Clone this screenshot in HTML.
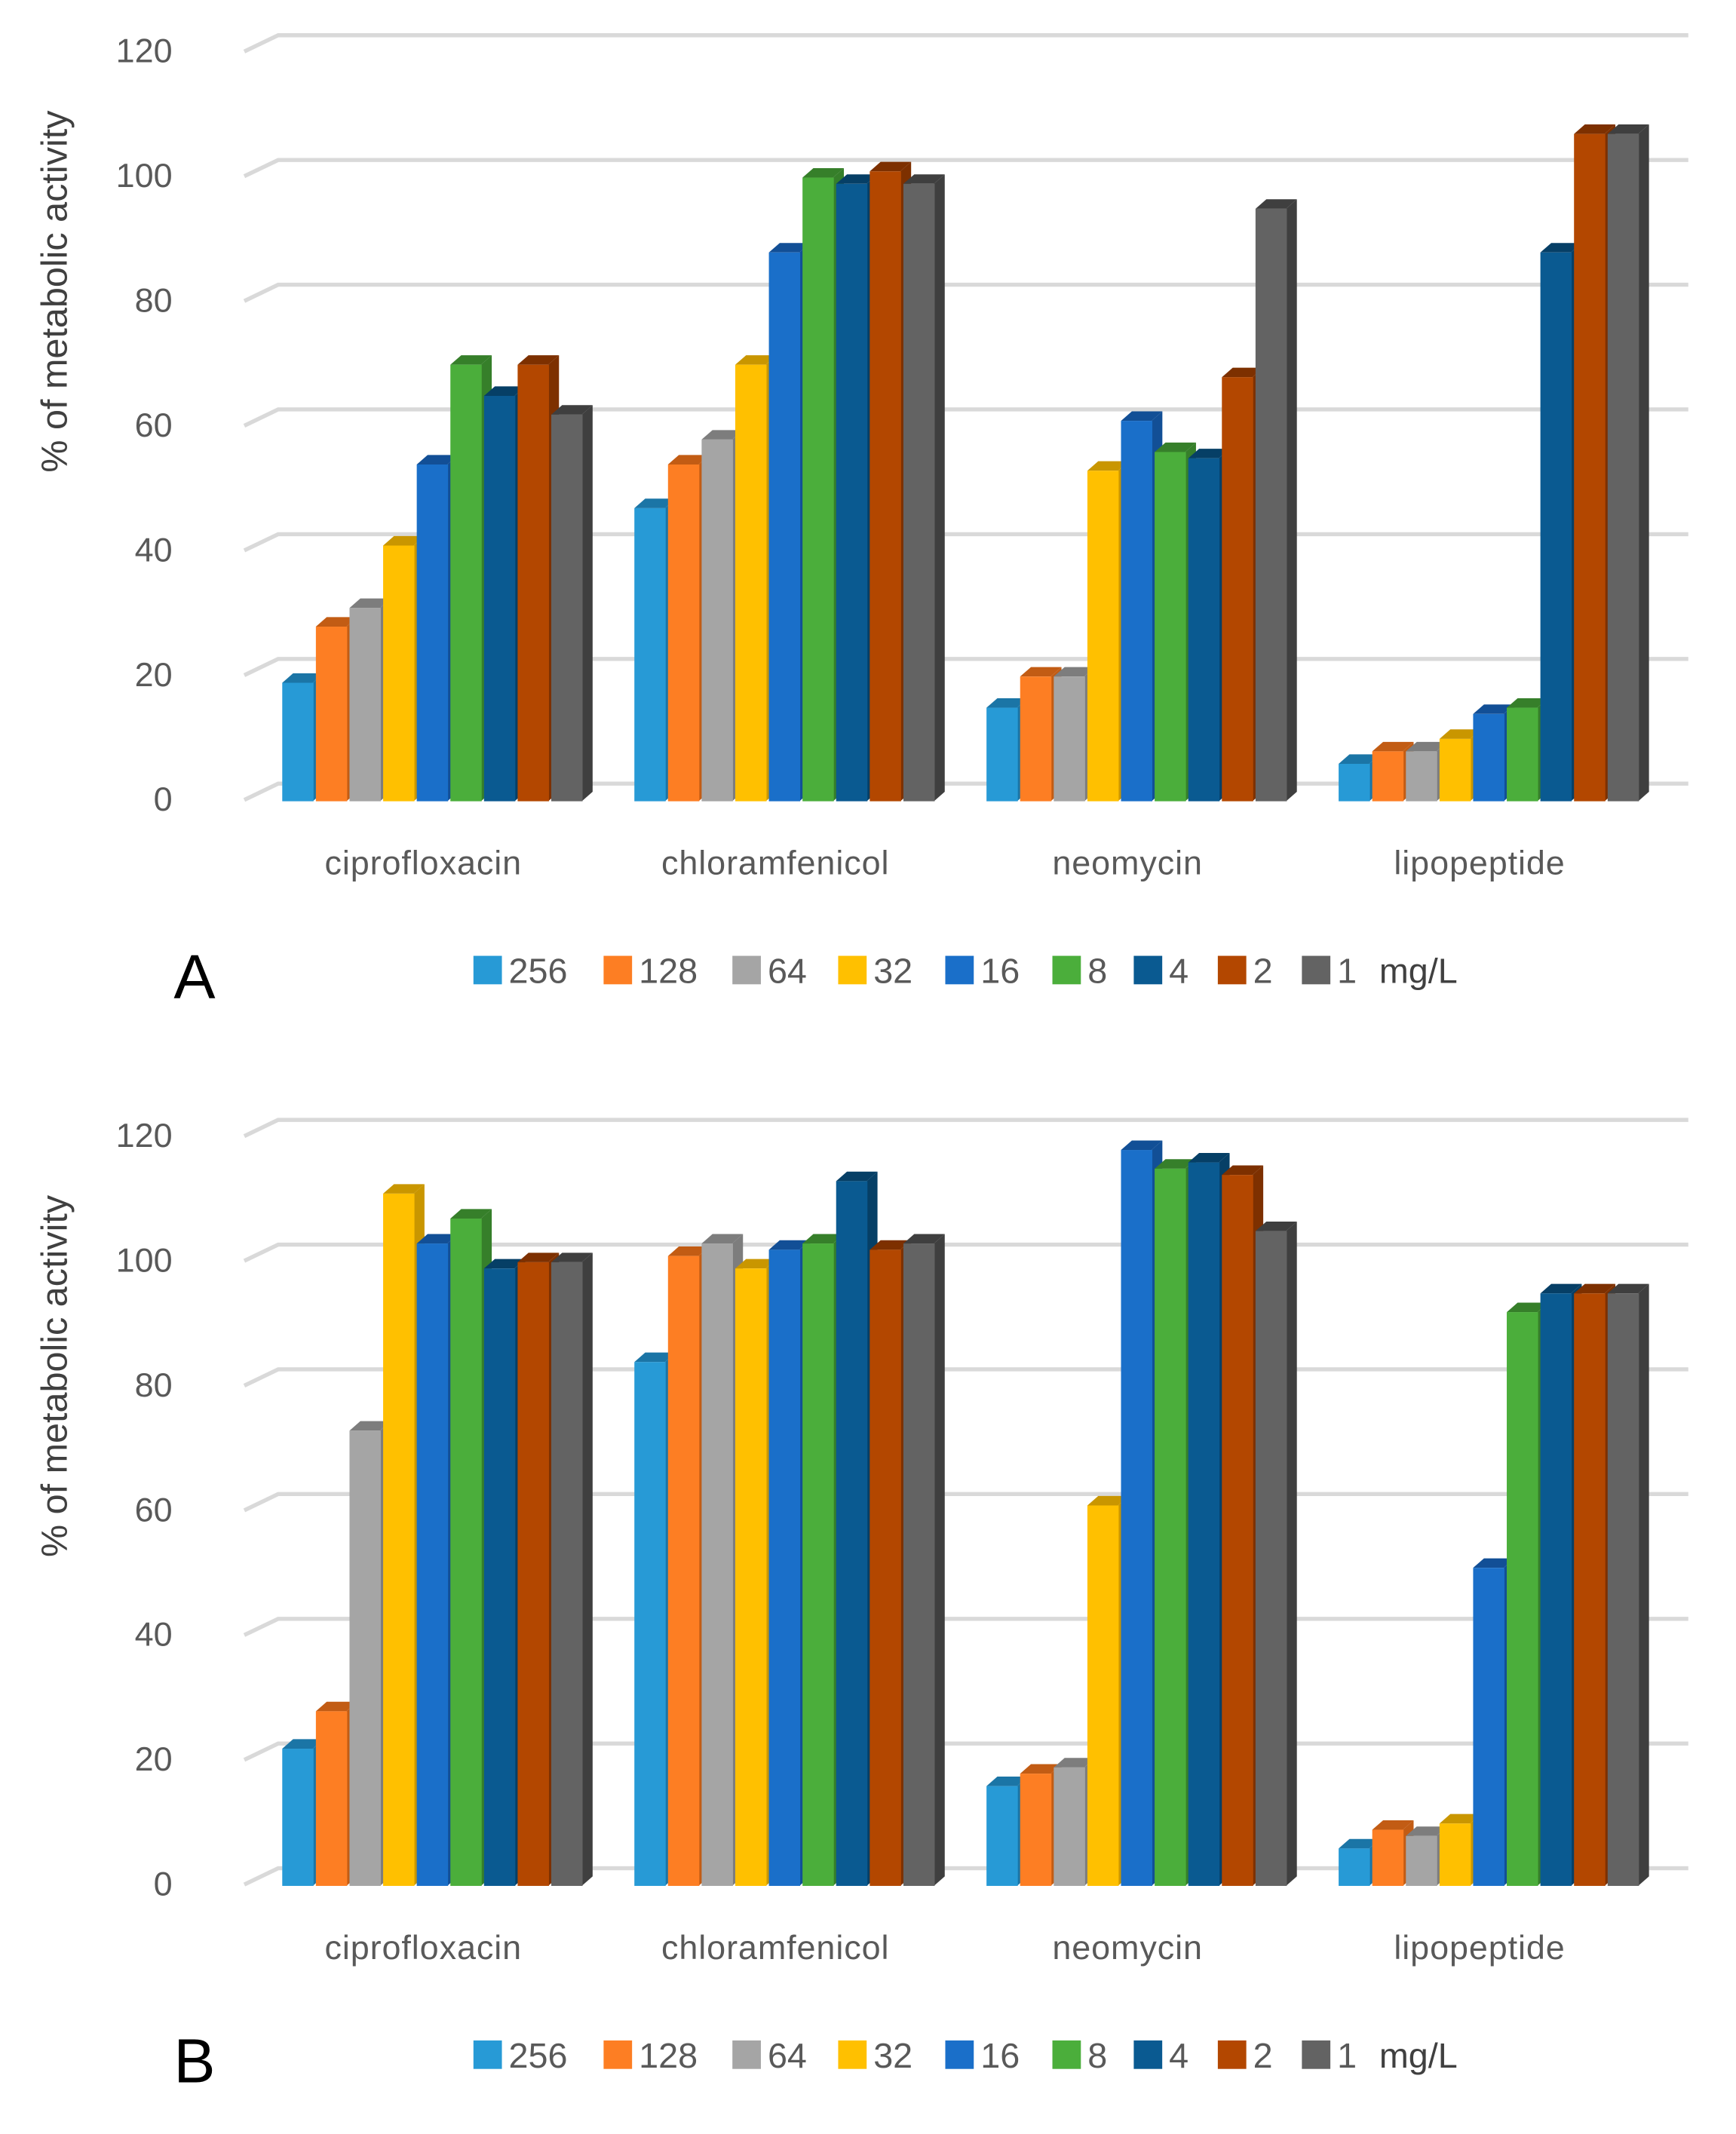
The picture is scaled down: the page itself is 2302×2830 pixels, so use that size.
<!DOCTYPE html>
<html><head><meta charset="utf-8"><style>
html,body{margin:0;padding:0;background:#fff;}
svg{display:block;font-family:"Liberation Sans",sans-serif;}
</style></head><body>
<svg id="chart" width="2302" height="2830" viewBox="0 0 1280 1574" xmlns="http://www.w3.org/2000/svg"></svg>
<script>
const categories = ["ciprofloxacin","chloramfenicol","neomycin","lipopeptide"];
const seriesNames = ["256","128","64","32","16","8","4","2","1"];
const ticks = [0,20,40,60,80,100,120];
const panelLabels = ["A","B"];
const valuesA = [
 [19,28,31,41,54,70,65,70,62],
 [47,54,58,70,88,100,99,101,99],
 [15,20,20,53,61,56,55,68,95],
 [6,8,8,10,14,15,88,107,107]
];
const valuesB = [
 [22,28,73,111,103,107,99,100,100],
 [84,101,103,99,102,103,113,102,103],
 [16,18,19,61,118,115,116,114,105],
 [6,9,8,10,51,92,95,95,95]
];
const colors = ["#279ad6","#fd7e23","#a5a5a5","#ffc000","#1a6fc9","#4bae3b","#0a5a91","#b34700","#636363"];
const dark = ["#1b75a6","#c25c14","#7d7d7d","#c99600","#124f96","#367f2a","#063f66","#7d3000","#3f3f3f"];

const svg = document.getElementById('chart');
const NS = "http://www.w3.org/2000/svg";
function mk(tag, attrs, parent){const e=document.createElementNS(NS,tag);for(const k in attrs)e.setAttribute(k,attrs[k]);(parent||svg).appendChild(e);return e;}

const PX = 4.6;
function drawPanel(vals, off, label){
  const g = mk('g',{});
  
  
  const yBack = v => off + 578 - v*PX;
  const yFront = v => off + 591 - v*PX;
  ticks.forEach(t=>{
    const y = yBack(t);
    const l = mk('path',{d:`M180 ${y+12} L205 ${y} L1245 ${y}`,stroke:'#d9d9d9','stroke-width':3,fill:'none'},g);
    
    
    const tx = mk('text',{x:127,y:y+20,'text-anchor':'end','font-size':25,fill:'#595959'},g);
    tx.textContent = t;
    
    
  });
  const yt = mk('text',{transform:`translate(49 ${off+215}) rotate(-90)`,'text-anchor':'middle','font-size':27,fill:'#404040'},g);
  yt.textContent = "% of metabolic activity";
  
  
  vals.forEach((row,ci)=>{
    const x0 = 208 + ci*259.7;
    row.forEach((v,si)=>{
      const x = x0 + si*24.8, w = 22.5, d = 8, dy = 7;
      const top = yFront(v), base = yFront(0);
      const side = mk('path',{d:`M${x+w} ${top} L${x+w+d} ${top-dy} L${x+w+d} ${base-dy} L${x+w} ${base} Z`,fill:dark[si]},g);
      
      
      const tp = mk('path',{d:`M${x} ${top} L${x+d} ${top-dy} L${x+w+d} ${top-dy} L${x+w} ${top} Z`,fill:dark[si]},g);
      
      
      const r = mk('rect',{x:x,y:top,width:w+0.6,height:base-top,fill:colors[si]},g);
      
      
    });
    const ct = mk('text',{x:x0+104,y:off+645,'text-anchor':'middle','font-size':25,fill:'#595959','letter-spacing':0.5},g);
    ct.textContent = categories[ci];
    
    
  });
  const lx = [349,445,540,618,697,776,836,898,960];
  seriesNames.forEach((s,si)=>{
    const sq = mk('rect',{x:lx[si],y:off+705,width:21,height:21,fill:colors[si]},g);
    
    
    const t = mk('text',{x:lx[si]+26,y:off+725,'font-size':26,fill:'#595959'},g);
    t.textContent = s;
    
    
  });
  const u = mk('text',{x:1017,y:off+725,'font-size':26,fill:'#404040'},g);
  u.textContent = "mg/L";
  
  
  const pl = mk('text',{x:128,y:off+736,'font-size':46,fill:'#000'},g);
  pl.textContent = label;
  
  
}
drawPanel(valuesA, 0, panelLabels[0]);
drawPanel(valuesB, 800, panelLabels[1]);
</script>
</body></html>
